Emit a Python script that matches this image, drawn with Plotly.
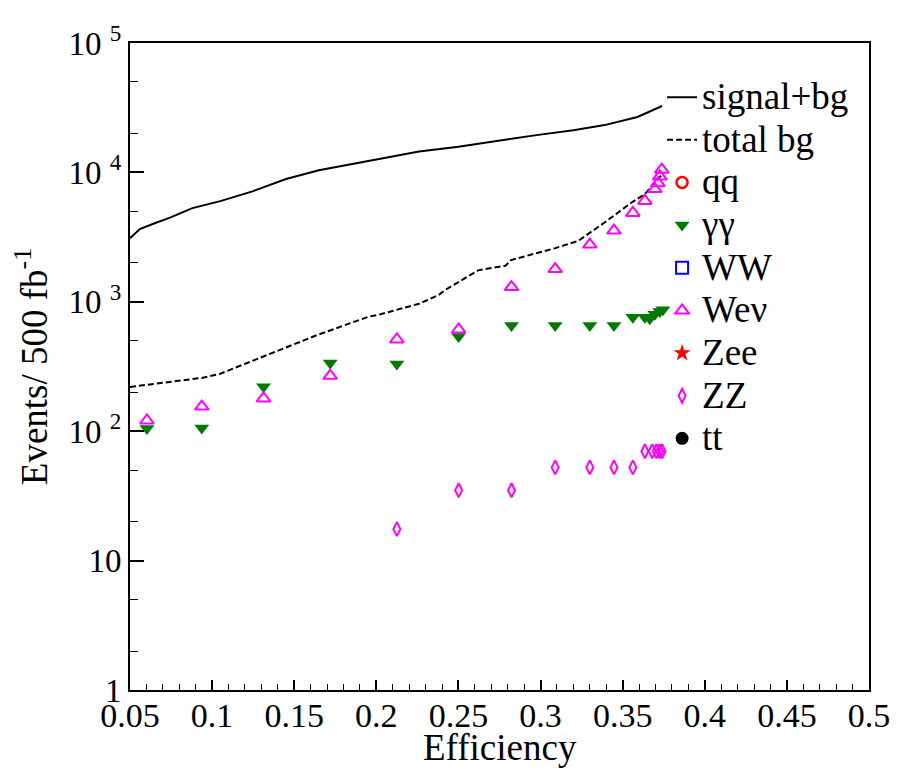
import plotly.graph_objects as go

# ---------------- data ----------------
sig_eff = [0.050, 0.056, 0.065, 0.074, 0.088, 0.105, 0.125, 0.145, 0.165, 0.200, 0.226,
           0.250, 0.2865, 0.2986, 0.320, 0.339, 0.359, 0.3696, 0.374]
sig_val = [3100, 3650, 4050, 4450, 5300, 6000, 7170, 8900, 10400, 12600, 14500,
           15800, 18600, 19500, 21200, 23200, 26800, 30500, 32600]

bg_eff = [0.050, 0.0937, 0.1046, 0.135, 0.165, 0.1955, 0.2016, 0.226, 0.238, 0.242, 0.262,
          0.2786, 0.282, 0.309, 0.323, 0.339, 0.355, 0.3635, 0.3717, 0.374]
bg_val = [220, 258, 277, 394, 560, 768, 795, 966, 1130, 1235, 1750,
          1900, 2100, 2600, 2960, 4100, 5800, 6800, 8900, 9650]

gg_eff = [0.0603, 0.0937, 0.1313, 0.1719, 0.2125, 0.2501, 0.2823, 0.3089, 0.330, 0.3447,
          0.3562, 0.3635, 0.3665, 0.3696, 0.3726, 0.3745]
gg_val = [105, 106, 221, 336, 330, 540, 656, 656, 656, 656,
          760, 760, 740, 800, 840, 870]

wev_eff = [0.0603, 0.0937, 0.1313, 0.1719, 0.2125, 0.2501, 0.2823, 0.3089, 0.330, 0.3447,
           0.3562, 0.3635, 0.3696, 0.3715, 0.3726, 0.3738]
wev_val = [121, 155, 179, 268, 512, 611, 1300, 1790, 2770, 3550,
           4860, 6020, 7430, 8250, 9300, 10500]

zz_eff = [0.2125, 0.2501, 0.2823, 0.3089, 0.330, 0.3447, 0.3562, 0.3635, 0.368, 0.3705, 0.3725, 0.374]
zz_val = [17.5, 35, 35, 52.5, 52.5, 52.5, 52.5, 70, 70, 70, 70, 70]

# no visible samples (legend entries only)
qq_eff, qq_val = [None], [None]
ww_eff, ww_val = [None], [None]
zee_eff, zee_val = [None], [None]
tt_eff, tt_val = [None], [None]

x_ticks = [0.05, 0.1, 0.15, 0.2, 0.25, 0.3, 0.35, 0.4, 0.45, 0.5]
x_ticktext = ["0.05", "0.1", "0.15", "0.2", "0.25", "0.3", "0.35", "0.4", "0.45", "0.5"]
y_ticks = [1, 10, 100, 1000, 10000, 100000]
y_ticktext = ["1", "10", "10 <sup>2</sup>", "10 <sup>3</sup>", "10 <sup>4</sup>", "10 <sup>5</sup>"]

FONT = "Liberation Serif"
LEG_SIZE = 37


def lname(s):
    return f'<span style="font-size:{LEG_SIZE}px">{s}</span>'


fig = go.Figure()
fig.add_trace(go.Scatter(x=sig_eff, y=sig_val, mode="lines", name=lname("signal+bg"),
                         line=dict(color="black", width=2), legendgroup="a"))
fig.add_trace(go.Scatter(x=bg_eff, y=bg_val, mode="lines", name=lname("total bg"),
                         line=dict(color="black", width=2, dash="6px,3px"), legendgroup="b"))
fig.add_trace(go.Scatter(x=qq_eff, y=qq_val, mode="markers", name=lname("qq"),
                         marker=dict(symbol="circle-open", color="red", size=11, line=dict(width=2.5, color="red")),
                         legendgroup="c"))
fig.add_trace(go.Scatter(x=gg_eff, y=gg_val, mode="markers", name=lname("γγ"),
                         marker=dict(symbol="triangle-down", color="#007a00", size=13), legendgroup="d"))
fig.add_trace(go.Scatter(x=ww_eff, y=ww_val, mode="markers", name=lname("WW"),
                         marker=dict(symbol="square-open", color="blue", size=12, line=dict(width=2, color="blue")),
                         legendgroup="e"))
fig.add_trace(go.Scatter(x=wev_eff, y=wev_val, mode="markers", name=lname("Weν"),
                         marker=dict(symbol="triangle-up-open", color="magenta", size=12, line=dict(width=2, color="magenta")),
                         legendgroup="f"))
fig.add_trace(go.Scatter(x=zee_eff, y=zee_val, mode="markers", name=lname("Zee"),
                         marker=dict(symbol="star", color="red", size=13), legendgroup="g"))
fig.add_trace(go.Scatter(x=zz_eff, y=zz_val, mode="markers", name=lname("ZZ"),
                         marker=dict(symbol="diamond-tall-open", color="magenta", size=10, line=dict(width=2, color="magenta")),
                         legendgroup="h"))
fig.add_trace(go.Scatter(x=tt_eff, y=tt_val, mode="markers", name=lname("tt"),
                         marker=dict(symbol="circle", color="black", size=13), legendgroup="i"))

fig.add_annotation(text="Efficiency", x=0.5, y=-0.0885, xref="paper", yref="paper",
                   xanchor="center", yanchor="middle", showarrow=False,
                   font=dict(family=FONT, size=37, color="black"))

# the page body adds an 8 px offset, so the figure is 8 px smaller in each direction
fig.update_layout(
    width=894, height=763,
    margin=dict(l=122, r=30, t=27, b=81),
    paper_bgcolor="white", plot_bgcolor="white",
    font=dict(color="black", size=33),
    showlegend=True,
    legend=dict(x=0.72, y=0.957, xanchor="left", yanchor="top",
                bgcolor="rgba(0,0,0,0)", borderwidth=0,
                font=dict(family=FONT, size=30.5, color="black"),
                itemwidth=30, tracegroupgap=0, traceorder="normal"),
    xaxis=dict(range=[0.05, 0.5], tickvals=x_ticks, ticktext=x_ticktext,
               ticks="inside", ticklen=10, tickwidth=1.5, tickcolor="black",
               minor=dict(dtick=0.01, tick0=0.05, ticks="inside", ticklen=6, tickwidth=1.2, tickcolor="black"),
               showline=True, linecolor="black", linewidth=2, mirror=True,
               showgrid=False, zeroline=False, ticklabelstandoff=-6,
               tickfont=dict(family=FONT, size=34, color="black")),
    yaxis=dict(type="log", range=[0, 5], tickvals=y_ticks, ticktext=y_ticktext,
               ticks="inside", ticklen=14, tickwidth=1.5, tickcolor="black",
               minor=dict(ticks="inside", ticklen=8, tickwidth=1.2, tickcolor="black"),
               showline=True, linecolor="black", linewidth=2, mirror=True,
               showgrid=False, zeroline=False,
               tickfont=dict(family=FONT, size=33, color="black"),
               title=dict(text="Events/ 500 fb<sup>-1</sup>", font=dict(family=FONT, size=37, color="black"), standoff=10)),
)

fig.write_html("out.html")
